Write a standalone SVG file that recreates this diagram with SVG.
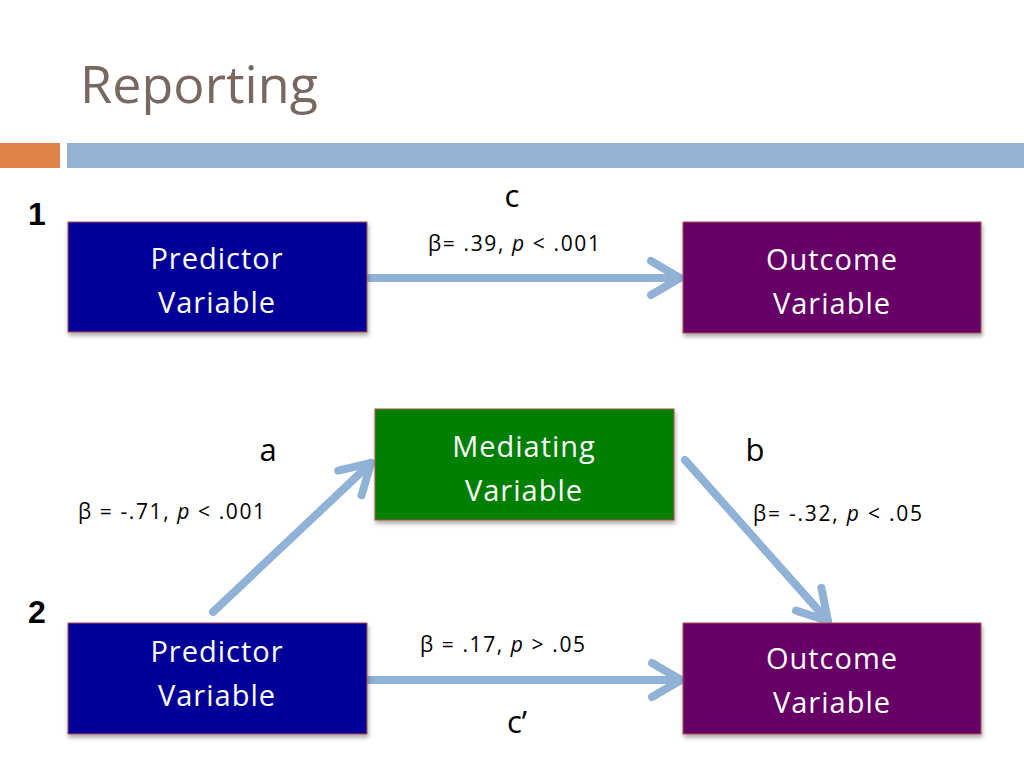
<svg xmlns="http://www.w3.org/2000/svg" width="1024" height="768" viewBox="0 0 1024 768">
<defs>
<filter id="sh" x="-10%" y="-10%" width="120%" height="130%">
<feDropShadow dx="1" dy="3" stdDeviation="2" flood-color="#000" flood-opacity="0.35"/>
</filter>
<marker id="ah" viewBox="0 0 40 44" markerWidth="40" markerHeight="44" refX="35" refY="22" orient="auto" markerUnits="userSpaceOnUse">
<path d="M6,5 L35,22 L6,39" fill="none" stroke="#8fb2d6" stroke-width="8" stroke-linecap="round" stroke-linejoin="round"/>
</marker>
</defs>
<style>
.box{stroke:#b05050;stroke-width:1;filter:url(#sh)}
.nt{font-family:"Open Sans","Liberation Sans",sans-serif;font-size:29px;letter-spacing:1px;fill:#fff;text-anchor:middle}
.lb{font-family:"Open Sans","Liberation Sans",sans-serif;font-size:21px;fill:#000}
.big{font-family:"Open Sans","Liberation Sans",sans-serif;font-size:31px;fill:#000;text-anchor:middle}
.num{font-family:"Liberation Sans",sans-serif;font-size:32px;font-weight:bold;fill:#000}
.con{stroke:#8fb2d6;stroke-width:8;fill:none;stroke-linecap:round;marker-end:url(#ah)}
</style>
<rect width="1024" height="768" fill="#fff"/>
<text x="80" y="103" font-family="'Open Sans','Liberation Sans',sans-serif" font-size="52" fill="#786860" textLength="238" lengthAdjust="spacing">Reporting</text>
<rect x="0" y="143" width="60" height="25" fill="#e0834a"/>
<rect x="67" y="143" width="957" height="25" fill="#94b3d2"/>
<text class="num" x="28" y="225">1</text>
<text class="num" x="28" y="623">2</text>
<g id="connectors">
<line class="con" x1="370" y1="278" x2="680" y2="278"/>
<line class="con" x1="213" y1="612" x2="371" y2="463"/>
<line class="con" x1="685" y1="460" x2="828" y2="621"/>
<line class="con" x1="370" y1="680" x2="681" y2="680"/>
</g>
<g id="predictor1">
<rect class="box" x="68" y="222" width="299" height="110" fill="#000099"/>
<text class="nt" x="217" y="269">Predictor</text>
<text class="nt" x="217" y="313">Variable</text>
</g>
<g id="outcome1">
<rect class="box" x="683" y="222" width="298" height="111" fill="#660066"/>
<text class="nt" x="832" y="270">Outcome</text>
<text class="nt" x="832" y="314">Variable</text>
</g>
<g id="mediating">
<rect class="box" x="375" y="409" width="299" height="111" fill="#008000"/>
<text class="nt" x="524" y="457">Mediating</text>
<text class="nt" x="524" y="501">Variable</text>
</g>
<g id="predictor2">
<rect class="box" x="68" y="623" width="299" height="111" fill="#000099"/>
<text class="nt" x="217" y="662">Predictor</text>
<text class="nt" x="217" y="706">Variable</text>
</g>
<g id="outcome2">
<rect class="box" x="683" y="623" width="298" height="111" fill="#660066"/>
<text class="nt" x="832" y="669">Outcome</text>
<text class="nt" x="832" y="713">Variable</text>
</g>
<text class="big" x="512" y="207">c</text>
<text class="lb" x="428" y="251" textLength="172" lengthAdjust="spacing">β= .39, <tspan font-style="italic">p</tspan> &lt; .001</text>
<text class="big" x="268" y="461">a</text>
<text class="big" x="755" y="461">b</text>
<text class="lb" x="78" y="519" textLength="187" lengthAdjust="spacing">β = -.71, <tspan font-style="italic">p</tspan> &lt; .001</text>
<text class="lb" x="753" y="521" textLength="169" lengthAdjust="spacing">β= -.32, <tspan font-style="italic">p</tspan> &lt; .05</text>
<text class="lb" x="420" y="652" textLength="165" lengthAdjust="spacing">β = .17, <tspan font-style="italic">p</tspan> &gt; .05</text>
<text class="big" x="517" y="733">c’</text>
</svg>
